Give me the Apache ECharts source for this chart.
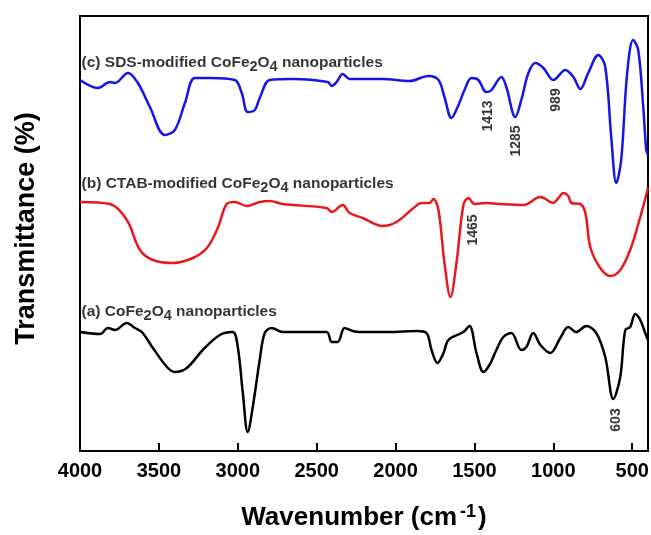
<!DOCTYPE html>
<html>
<head>
<meta charset="utf-8">
<script src="https://cdn.jsdelivr.net/npm/echarts@6/dist/echarts.min.js"></script>
<style>
html,body{margin:0;padding:0;background:#fff;}
#chart{width:651px;height:535px;}
</style>
</head>
<body>
<div id="chart"></div>
<script>
// Wavenumber (cm-1) and offset transmittance values
var wnC = [4000,3886,3810,3778,3696,3633,3557,3462,3399,3335,3272,3177,3019,2975,2937,2892,2861,2797,2652,2430,2405,2373,2335,2291,2082,1911,1791,1728,1690,1646,1601,1563,1519,1475,1437,1420,1392,1329,1298,1241,1203,1158,1114,1063,1000,924,873,829,779,715,671,633,601,570,532,494,462,430,411,400];
var tC  = [371,363,369,368,378,368,344,316,321,348,373,373,371,358,339,341,353,371,372,369,365,369,377,372,372,370,375,371,354,333,346,361,373,371,360,359,361,374,364,334,351,378,388,383,371,381,374,362,378,396,384,314,268,291,378,411,401,344,301,296];

var wnB = [4000,3810,3703,3620,3538,3411,3285,3196,3127,3070,3019,2943,2861,2797,2715,2437,2405,2335,2291,2209,2082,1994,1886,1835,1785,1760,1728,1690,1652,1614,1570,1538,1500,1424,1342,1190,1082,1000,968,937,905,886,829,797,766,703,639,576,513,449,400];
var tB  = [249,247,231,201,191,188,193,203,223,247,249,245,249,250,247,243,239,246,238,233,225,229,243,248,248,252,241,188,154,188,246,253,247,248,247,246,254,248,253,258,255,248,247,238,204,183,175,181,201,234,263];

var wnA = [4000,3873,3823,3778,3703,3652,3608,3538,3449,3399,3323,3222,3114,3032,3000,2968,2937,2905,2861,2829,2785,2715,2437,2405,2367,2323,2272,2228,2038,1867,1804,1772,1734,1696,1665,1570,1532,1487,1443,1405,1361,1317,1266,1203,1171,1127,1082,1019,956,905,855,791,728,671,620,576,544,513,481,449,418,400];
var tA  = [119,117,123,121,128,123,119,103,84,79,83,101,116,119,104,58,19,44,91,118,123,119,119,109,109,123,120,119,119,120,118,101,88,98,111,119,125,98,79,86,101,114,118,101,104,118,106,98,113,124,119,125,118,94,52,74,121,124,137,131,118,111];

// Peak annotations
var peakText = ['1413','1285','989','1465','603'];
var peakWn   = [1411,1234,981,1506,601];
var peakT    = [335,310,351,221,31];

// Curve labels
var curveText = [
  '{t|(c) SDS-modified CoFe}{s|2}{t|O}{s|4}{t| nanoparticles}',
  '{t|(b) CTAB-modified CoFe}{s|2}{t|O}{s|4}{t| nanoparticles}',
  '{t|(a) CoFe}{s|2}{t|O}{s|4}{t| nanoparticles}'
];
var curveWn = [3990,3990,3990];
var curveT  = [388,267,139];

var xTicks = [4000,3500,3000,2500,2000,1500,1000,500];

function pairs(xs, ys){ return xs.map(function(x,i){ return [x, ys[i]]; }); }

var chart = echarts.init(document.getElementById('chart'));
var font = 'Liberation Sans, Arial, sans-serif';
chart.setOption({
  backgroundColor: '#fff',
  animation: false,
  grid: { left: 80, right: 3, top: 16, bottom: 84, show: true, borderColor: '#000', borderWidth: 2,
          containLabel: false, outerBoundsMode: 'none' },
  xAxis: {
    type: 'value', inverse: true, min: 400, max: 4000,
    axisLine: { show: true, lineStyle: { color: '#000', width: 2 } },
    axisTick: { show: true, inside: true, length: 8, lineStyle: { color: '#000', width: 2 }, customValues: xTicks },
    axisLabel: { show: true, customValues: xTicks, margin: 10, color: '#000', fontFamily: font, fontWeight: 'bold', fontSize: 20,
                 formatter: function(v){ return String(v); } },
    splitLine: { show: false },
    name: '{t|Wavenumber (cm}{sup|-1}{t|)}',
    nameLocation: 'middle', nameGap: 52,
    nameTextStyle: {
      color: '#000', fontFamily: font, fontWeight: 'bold', fontSize: 26,
      rich: {
        t: { fontFamily: font, fontWeight: 'bold', fontSize: 26, color: '#000', lineHeight: 30 },
        sup: { fontFamily: font, fontWeight: 'bold', fontSize: 18, color: '#000', lineHeight: 14, verticalAlign: 'top', padding: [0, 2, 0, 3] }
      }
    }
  },
  yAxis: {
    type: 'value', min: 0, max: 435,
    axisLine: { show: true, lineStyle: { color: '#000', width: 2 } },
    axisTick: { show: false }, axisLabel: { show: false }, splitLine: { show: false },
    name: 'Transmittance (%)', nameLocation: 'middle', nameGap: 40, nameRotate: 90,
    nameTextStyle: { color: '#000', fontFamily: font, fontWeight: 'bold', fontSize: 27, padding: [0, 0, 0, 10] }
  },
  series: [
    { type: 'line', data: pairs(wnC, tC), showSymbol: false, symbol: 'none', smooth: 0.35,
      lineStyle: { color: '#1414e6', width: 2.5 }, z: 3 },
    { type: 'line', data: pairs(wnB, tB), showSymbol: false, symbol: 'none', smooth: 0.35,
      lineStyle: { color: '#e8181c', width: 2.5 }, z: 3 },
    { type: 'line', data: pairs(wnA, tA), showSymbol: false, symbol: 'none', smooth: 0.35,
      lineStyle: { color: '#000', width: 2.5 }, z: 3 },
    { type: 'scatter', symbolSize: 0, silent: true, z: 5,
      data: peakWn.map(function(w,i){ return { value: [w, peakT[i]], name: peakText[i] }; }),
      label: { show: true, position: 'inside', rotate: 90, formatter: '{b}', color: '#000',
               fontFamily: font, fontWeight: 'bold', fontSize: 14 } },
    { type: 'scatter', symbolSize: 0, silent: true, z: 5,
      data: curveWn.map(function(w,i){ return { value: [w, curveT[i]], name: curveText[i] }; }),
      label: { show: true, position: 'right', distance: 0, formatter: '{b}', color: '#000',
        rich: {
          t: { fontFamily: font, fontWeight: 'bold', fontSize: 15.5, color: '#000', lineHeight: 22 },
          s: { fontFamily: font, fontWeight: 'bold', fontSize: 14.5, color: '#000', lineHeight: 12, verticalAlign: 'bottom' }
        } } }
  ]
});
</script>
</body>
</html>
